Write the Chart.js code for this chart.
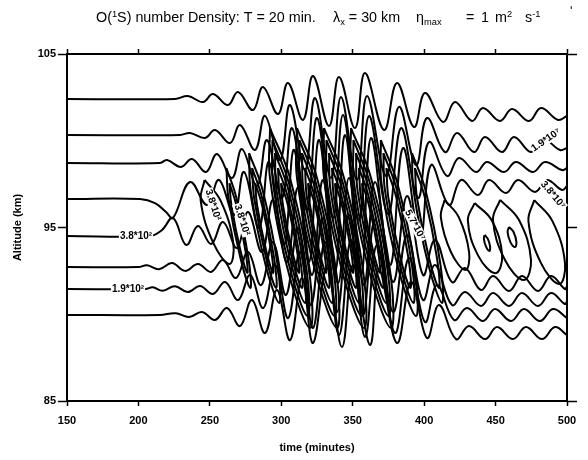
<!DOCTYPE html>
<html><head><meta charset="utf-8">
<script src="https://cdn.jsdelivr.net/npm/chart.js@4.4.0/dist/chart.umd.min.js"></script>
<style>html,body{margin:0;padding:0;background:#fff}#wrap{width:588px;height:460px}</style>
</head><body><div id="wrap"><canvas id="c" width="588" height="460"></canvas></div>
<script>
// ---- data (time in minutes, altitude in km) ----
const timeTicks = [150,200,250,300,350,400,450,500];
const altitudeTicks = [85,95,105];

const contourA = [[150,102.41],[225.6,102.41],[234.7,102.58],[245.2,102.23],[252.2,102.69],[262.7,102.06],[269.7,102.81],[280.2,101.77],[287.2,103.10],[297.7,101.54],[304.7,103.33],[315.2,101.20],[322.2,103.73],[333.4,100.85],[340.4,103.67],[351.6,100.73],[358.6,103.90],[371.9,100.62],[381.0,103.33],[392.9,100.79],[400.6,102.75],[413.2,101.08],[421.6,102.23],[433.5,101.14],[441.2,101.89],[453.1,101.14],[461.5,101.83],[473.4,101.14],[481.8,101.89],[493.7,101.20],[500,101.43]];
const contourB = [[150,100.33],[229.1,100.33],[236.1,100.45],[246.6,100.16],[253.6,100.62],[264.1,99.87],[271.1,100.91],[281.6,99.47],[288.6,101.43],[299.1,98.89],[306.1,102.06],[316.6,98.31],[323.6,102.46],[334.8,97.85],[341.8,102.52],[353.0,97.74],[360.0,102.58],[373.3,97.97],[382.4,101.95],[394.3,98.60],[402.0,101.31],[414.6,99.35],[423.0,100.45],[434.9,99.35],[442.6,100.22],[454.5,99.35],[462.9,100.22],[474.8,99.35],[483.2,100.10],[495.1,99.47],[500,99.58]];
const contourC = [[150,98.72],[215.1,98.72],[220.0,98.89],[229.8,98.49],[237.5,98.95],[247.3,98.20],[255.0,99.24],[265.5,97.85],[272.5,99.52],[283.0,97.39],[290.0,100.04],[300.5,96.70],[307.5,100.73],[318.0,96.01],[325.0,101.31],[336.2,95.55],[343.2,101.48],[354.4,95.43],[361.4,101.43],[374.7,95.78],[383.8,100.73],[395.7,96.70],[403.4,99.93],[416.0,97.97],[424.4,99.01],[436.3,98.20],[444.0,98.78],[455.9,98.20],[464.3,98.78],[476.2,98.20],[484.6,98.78],[496.5,98.31],[500,98.43]];
const contourD = [[150,96.64],[201.1,96.64],[211.6,96.41],[219.3,95.89],[224.2,95.55],[236.1,97.62],[248.0,96.30],[256.4,97.74],[266.9,95.72],[273.9,98.20],[284.4,94.97],[291.4,98.78],[301.9,93.99],[308.9,99.47],[319.4,93.01],[326.4,100.04],[337.6,92.44],[344.6,100.33],[355.8,92.26],[362.8,100.16],[376.1,92.84],[385.2,99.58],[397.1,94.28],[404.8,98.60],[417.4,96.30],[425.8,97.74],[437.7,96.87],[445.4,97.74],[457.3,96.99],[465.7,97.74],[477.6,97.05],[486.0,97.74],[496.5,97.16],[500,97.39]];
const contourE = [[150,94.51],[208.1,94.51],[216.5,94.86],[224.2,95.55],[233.5,93.99],[241.7,95.09],[250.9,94.05],[259.2,95.32],[269.0,93.82],[276.7,95.89],[286.5,93.59],[294.2,96.58],[304.0,93.01],[311.7,97.28],[321.5,92.26],[329.2,97.74],[339.7,91.80],[347.4,97.85],[357.9,91.68],[365.6,97.62],[378.2,91.86],[388.0,96.82],[399.2,92.26],[407.6,94.28],[419.5,91.86],[428.6,92.67],[439.8,91.40],[448.2,92.20],[459.4,91.34],[468.5,92.20],[479.7,91.34],[488.8,92.20],[498.6,91.45],[500,91.63]];
const contourF = [[150,92.72],[200,92.72],[206,92.82],[214.5,92.60],[223.5,92.95],[232.6,92.50],[241.7,92.90],[250.8,92.44],[259.2,93.13],[268.3,92.09],[276.7,93.59],[285.8,91.68],[294.2,94.16],[303.3,91.11],[311.7,94.97],[320.8,90.53],[329.2,95.55],[339.0,90.13],[347.4,95.72],[357.2,89.96],[365.6,95.43],[378.2,90.13],[388.0,94.57],[399.2,90.82],[407.6,92.84],[419.5,90.53],[428.6,91.28],[439.8,90.48],[448.2,91.22],[459.4,90.48],[468.5,91.22],[479.7,90.48],[488.8,91.22],[498.6,90.59],[500,90.76]];
const contourG = [[150,91.45],[205,91.45],[210,91.55],[217,91.35],[225.5,91.62],[234.5,91.28],[243.1,91.63],[252.2,91.17],[260.7,91.86],[269.8,90.82],[278.2,92.26],[287.3,90.36],[295.7,92.84],[304.8,89.78],[313.1,93.59],[322.2,89.21],[330.6,94.16],[340.4,88.80],[348.8,94.28],[358.6,88.69],[367.0,93.99],[379.6,88.92],[389.4,93.24],[400.6,89.55],[409.0,91.68],[420.9,89.67],[430.0,90.36],[441.2,89.61],[449.6,90.30],[460.8,89.61],[469.9,90.30],[481.1,89.61],[490.2,90.30],[500,89.78]];
const contourH = [[150,89.96],[215,89.96],[226,90.06],[235.5,89.84],[244.5,90.13],[253.6,89.67],[262.0,90.36],[271.1,89.32],[279.5,90.82],[288.6,88.92],[297.0,91.40],[306.1,88.51],[314.5,92.09],[322.2,88.34],[332.0,92.67],[342.5,88.11],[350.2,92.84],[362.1,88.23],[368.4,92.55],[381.0,88.34],[390.8,91.86],[402.0,88.63],[410.4,90.53],[422.3,88.57],[431.4,89.32],[442.6,88.57],[451.0,89.26],[462.2,88.57],[471.3,89.26],[482.5,88.57],[491.6,89.26],[500,88.80]];

// closed contours of the dense central bands (each ring listed point by point)
const centerLoops = [
 [[292.1,100.73],[306.1,97.85],[320.1,92.09],[320.1,89.21],[306.1,92.09],[292.1,97.85],[292.1,100.73]],
 [[293.8,100.04],[305.5,97.51],[317.9,92.43],[318.4,89.90],[306.7,92.43],[294.3,97.51],[293.8,100.04]],
 [[295.6,99.29],[305.1,97.13],[315.6,92.81],[316.6,90.65],[307.2,92.81],[296.7,97.13],[295.6,99.29]],
 [[297.7,98.43],[304.7,96.70],[313.1,93.24],[314.5,91.51],[307.5,93.24],[299.1,96.70],[297.7,98.43]],
 [[299.8,97.56],[304.7,96.27],[311.0,93.67],[312.4,92.38],[307.5,93.67],[301.2,96.27],[299.8,97.56]],
 [[311.0,100.73],[325.0,97.85],[339.0,92.09],[339.0,89.21],[325.0,92.09],[311.0,97.85],[311.0,100.73]],
 [[312.7,100.04],[324.4,97.51],[336.8,92.43],[337.3,89.90],[325.6,92.43],[313.2,97.51],[312.7,100.04]],
 [[314.5,99.29],[324.0,97.13],[334.5,92.81],[335.5,90.65],[326.1,92.81],[315.6,97.13],[314.5,99.29]],
 [[316.6,98.43],[323.6,96.70],[332.0,93.24],[333.4,91.51],[326.4,93.24],[318.0,96.70],[316.6,98.43]],
 [[318.7,97.56],[323.6,96.27],[329.9,93.67],[331.3,92.38],[326.4,93.67],[320.1,96.27],[318.7,97.56]],
 [[329.9,100.73],[343.9,97.85],[357.9,92.09],[357.9,89.21],[343.9,92.09],[329.9,97.85],[329.9,100.73]],
 [[331.6,100.04],[343.3,97.51],[355.7,92.43],[356.2,89.90],[344.5,92.43],[332.1,97.51],[331.6,100.04]],
 [[333.4,99.29],[342.9,97.13],[353.4,92.81],[354.4,90.65],[345.0,92.81],[334.5,97.13],[333.4,99.29]],
 [[335.5,98.43],[342.5,96.70],[350.9,93.24],[352.3,91.51],[345.3,93.24],[336.9,96.70],[335.5,98.43]],
 [[337.6,97.56],[342.5,96.27],[348.8,93.67],[350.2,92.38],[345.3,93.67],[339.0,96.27],[337.6,97.56]],
 [[348.8,100.73],[362.8,97.85],[376.8,92.09],[376.8,89.21],[362.8,92.09],[348.8,97.85],[348.8,100.73]],
 [[350.5,100.04],[362.2,97.51],[374.6,92.43],[375.1,89.90],[363.4,92.43],[351.0,97.51],[350.5,100.04]],
 [[352.3,99.29],[361.8,97.13],[372.3,92.81],[373.3,90.65],[363.9,92.81],[353.4,97.13],[352.3,99.29]],
 [[354.4,98.43],[361.4,96.70],[369.8,93.24],[371.2,91.51],[364.2,93.24],[355.8,96.70],[354.4,98.43]],
 [[356.5,97.56],[361.4,96.27],[367.7,93.67],[369.1,92.38],[364.2,93.67],[357.9,96.27],[356.5,97.56]],
 [[369.7,100.04],[381.4,97.51],[393.8,92.43],[394.3,89.90],[382.6,92.43],[370.2,97.51],[369.7,100.04]],
 [[371.5,99.29],[381.0,97.13],[391.5,92.81],[392.5,90.65],[383.1,92.81],[372.6,97.13],[371.5,99.29]],
 [[373.6,98.43],[380.6,96.70],[389.0,93.24],[390.4,91.51],[383.4,93.24],[375.0,96.70],[373.6,98.43]],
 [[391.5,99.29],[401.0,97.13],[411.5,92.81],[412.5,90.65],[403.1,92.81],[392.6,97.13],[391.5,99.29]],
 [[393.6,98.43],[400.6,96.70],[409.0,93.24],[410.4,91.51],[403.4,93.24],[395.0,96.70],[393.6,98.43]],
 [[277.5,99.29],[287.0,97.13],[297.5,92.81],[298.5,90.65],[289.1,92.81],[278.6,97.13],[277.5,99.29]],
 [[279.6,98.43],[286.6,96.70],[295.0,93.24],[296.4,91.51],[289.4,93.24],[281.0,96.70],[279.6,98.43]],
 [[281.7,97.56],[286.6,96.27],[292.9,93.67],[294.3,92.38],[289.4,93.67],[283.1,96.27],[281.7,97.56]],
 [[261.6,98.43],[268.6,96.70],[277.0,93.24],[278.4,91.51],[271.4,93.24],[263.0,96.70],[261.6,98.43]],
 [[263.7,97.56],[268.6,96.27],[274.9,93.67],[276.3,92.38],[271.4,93.67],[265.1,96.27],[263.7,97.56]]
];
const sideLoops = [
 [[414.3,96.59],[424.3,95.58],[431.5,93.56],[428.9,92.55],[418.9,93.56],[411.7,95.58],[414.3,96.59]],
 [[435.3,96.41],[447.4,95.40],[454.6,93.38],[449.9,92.37],[437.8,93.38],[430.6,95.40],[435.3,96.41]],
 [[442.3,94.57],[444.6,94.34],[446.2,93.88],[445.7,93.65],[443.4,93.88],[441.8,94.34],[442.3,94.57]],
 [[453.2,96.59],[466.4,95.43],[474.8,93.13],[469.8,91.97],[456.6,93.13],[448.2,95.43],[453.2,96.59]],
 [[459.4,95.03],[462.6,94.74],[464.6,94.16],[463.6,93.87],[460.4,94.16],[458.4,94.74],[459.4,95.03]],
 [[477.1,96.58],[489.8,95.37],[498.6,92.95],[494.5,91.74],[481.8,92.95],[473.0,95.37],[477.1,96.58]],
 [[246.3,97.74],[257.6,96.53],[266.4,94.11],[263.7,92.90],[252.4,94.11],[243.6,96.53],[246.3,97.74]]
];

const contourLabels = [
 {text:'3.8*10\u00b2', t:198.3, z:94.51, angle:0},
 {text:'1.9*10\u00b2', t:192.7, z:91.45, angle:0},
 {text:'3.8*10\u00b2', t:252.2, z:96.30, angle:72},
 {text:'3.8*10\u00b2', t:272.5, z:95.43, angle:72},
 {text:'1.9*10\u2077', t:485.3, z:100.04, angle:-35},
 {text:'3.8*10\u2077', t:490.2, z:96.87, angle:50},
 {text:'5.7*10\u2077', t:393.6, z:95.14, angle:62}
];

// ---- chart ----
const allLines = [contourA,contourB,contourC,contourD,contourE,contourF,contourG,contourH,...centerLoops,...sideLoops];
const datasets = allLines.map(pts => ({
  data: pts.map(p => ({x:p[0], y:p[1]})),
  showLine:true, pointRadius:0, borderColor:'#000', borderWidth:2,
  tension:0.4, fill:false, xAxisID:'x', yAxisID:'y'
}));

const FONT = 'Liberation Sans';
// title pieces: [text, relative size, baseline shift, x position or null to follow]
const titleRuns = [
 ['O(',1,0,96],['1',0.65,-5,null],['S) number Density: T = 20 min.',1,0,null],
 ['\u03bb',1,0,333],['x',0.65,3,null],[' = 30 km',1,0,null],
 ['\u03b7',1,0,416],['max',0.65,3,null],['=',1,0,466],['1',1,0,481],['m',1,0,495],['2',0.65,-5,null],
 ['s',1,0,525],['-1',0.65,-5,null],['\u02b9',0.9,-7,570]
];
const titlePlugin = {
  id:'richTitle',
  afterDraw(chart){
    const ctx = chart.ctx; ctx.save();
    let w = 0;
    titleRuns.slice(0,3).forEach(r => { ctx.font = (13*r[1])+'px "'+FONT+'"'; w += ctx.measureText(r[0]).width; });
    const size = 13 * 220 / w;
    ctx.fillStyle = '#000'; ctx.textBaseline = 'alphabetic';
    let x = 0;
    titleRuns.forEach(r => {
      if (r[3] !== null) x = r[3];
      ctx.font = (size*r[1])+'px "'+FONT+'"';
      ctx.fillText(r[0], x, 22 + r[2]);
      x += ctx.measureText(r[0]).width;
    });
    ctx.restore();
  }
};
const labelPlugin = {
  id:'contourLabels',
  afterDatasetsDraw(chart){
    const {ctx, scales:{x, y}} = chart;
    contourLabels.forEach(l => {
      const px = x.getPixelForValue(l.t), py = y.getPixelForValue(l.z);
      ctx.save(); ctx.translate(px, py); ctx.rotate(l.angle*Math.PI/180);
      ctx.font = 'bold 10px "'+FONT+'"';
      const w = ctx.measureText(l.text).width;
      ctx.fillStyle = '#fff'; ctx.fillRect(-w/2-1, -5, w+2, 10);
      ctx.fillStyle = '#000'; ctx.textAlign = 'center'; ctx.textBaseline = 'middle';
      ctx.fillText(l.text, 0, 0);
      ctx.restore();
    });
  }
};

const tickFont = {family:FONT, size:11, weight:'bold'};
const border = {display:true, color:'#000', width:2};
const setTicks = arr => s => { s.ticks = arr.map(v => ({value:v})); };

new Chart(document.getElementById('c'), {
  type:'scatter',
  data:{datasets},
  plugins:[titlePlugin, labelPlugin],
  options:{
    responsive:false, animation:false, events:[],
    layout:{padding:0},
    plugins:{legend:{display:false}, tooltip:{enabled:false}, title:{display:false}},
    scales:{
      x:{type:'linear', position:'bottom', min:150, max:500, afterBuildTicks:setTicks(timeTicks),
         ticks:{font:tickFont, color:'#000', padding:8, maxRotation:0},
         grid:{drawOnChartArea:false, drawTicks:true, tickLength:5, tickColor:'#000', tickWidth:1.5},
         border, title:{display:true, text:'time (minutes)', font:tickFont, color:'#000', padding:{top:0,bottom:5}},
         afterFit:s => { s.height = 59; }},
      xTop:{type:'linear', position:'top', min:150, max:500, afterBuildTicks:setTicks(timeTicks),
         ticks:{display:false}, grid:{drawOnChartArea:false, drawTicks:true, tickLength:5, tickColor:'#000', tickWidth:1.5},
         border, afterFit:s => { s.height = 54; }},
      y:{type:'linear', position:'left', min:85, max:105, afterBuildTicks:setTicks(altitudeTicks),
         ticks:{font:tickFont, color:'#000', padding:2},
         grid:{drawOnChartArea:false, drawTicks:true, tickLength:9, tickColor:'#000', tickWidth:1.5},
         border, title:{display:true, text:'Altitude (km)', font:tickFont, color:'#000', padding:{top:11,bottom:0}},
         afterFit:s => { s.width = 67; }},
      yRight:{type:'linear', position:'right', min:85, max:105, afterBuildTicks:setTicks(altitudeTicks),
         ticks:{display:false}, grid:{drawOnChartArea:false, drawTicks:true, tickLength:10, tickColor:'#000', tickWidth:1.5},
         border, afterFit:s => { s.width = 21; }}
    }
  }
});
</script></body></html>
